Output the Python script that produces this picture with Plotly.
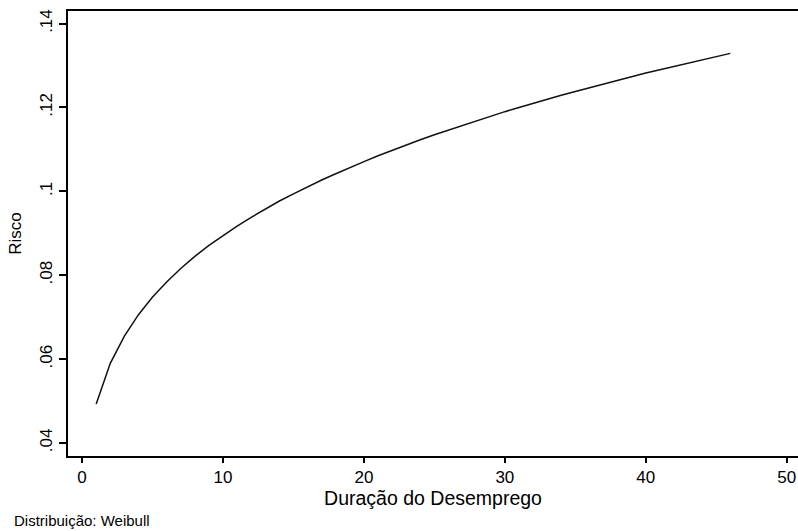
import plotly.graph_objects as go

# Duration of unemployment (months) and Weibull hazard
duracao = list(range(1, 47))
risco = [0.0493, 0.0590, 0.0655, 0.0706, 0.0748, 0.0784, 0.0816, 0.0845, 0.0871, 0.0895,
         0.0917, 0.0938, 0.0958, 0.0977, 0.0994, 0.1011, 0.1027, 0.1042, 0.1057, 0.1071,
         0.1085, 0.1098, 0.1111, 0.1123, 0.1135, 0.1146, 0.1158, 0.1169, 0.1179, 0.1190,
         0.1200, 0.1210, 0.1219, 0.1229, 0.1238, 0.1247, 0.1256, 0.1265, 0.1273, 0.1282,
         0.1290, 0.1298, 0.1306, 0.1314, 0.1321, 0.1329]

x_ticks = [0, 10, 20, 30, 40, 50]
y_ticks = [0.04, 0.06, 0.08, 0.10, 0.12, 0.14]
y_tick_labels = [".04", ".06", ".08", ".1", ".12", ".14"]

font_family = "Liberation Sans, Arial, sans-serif"

fig = go.Figure()
fig.add_trace(go.Scatter(x=duracao, y=risco, mode="lines",
                         line=dict(color="#111111", width=1.5),
                         showlegend=False, hoverinfo="x+y"))

fig.update_layout(
    width=798, height=531,
    margin=dict(l=68, r=0, t=11, b=75),
    paper_bgcolor="white", plot_bgcolor="white",
    font=dict(family=font_family, color="black", size=17),
    xaxis=dict(
        range=[-1.0, 50.8], tickvals=x_ticks, ticktext=[str(v) for v in x_ticks],
        showgrid=False, zeroline=False,
        showline=True, linecolor="black", linewidth=2, mirror=True,
        ticks="outside", ticklen=5, tickwidth=1.5, tickcolor="black",
        tickfont=dict(size=17),
        title=dict(text="Duração do Desemprego", font=dict(size=19.5), standoff=0),
        automargin=False,
    ),
    yaxis=dict(
        range=[0.0369, 0.1430], tickvals=y_ticks, ticktext=y_tick_labels,
        showgrid=False, zeroline=False,
        showline=True, linecolor="black", linewidth=1.5, mirror=False,
        ticks="outside", ticklen=7, tickwidth=1.5, tickcolor="black",
        tickangle=-90, tickfont=dict(size=17),
        title=dict(text="Risco", font=dict(size=17), standoff=12),
        automargin=False,
    ),
    annotations=[dict(
        text="Distribuição: Weibull", xref="paper", yref="paper",
        x=-56/730, y=-64/445, xanchor="left", yanchor="middle",
        showarrow=False, font=dict(size=15, family=font_family, color="black"),
    )],
)

fig.write_html(
    "out.html",
    config={"displayModeBar": False},
    post_script="document.body.style.margin='0';document.body.style.overflow='hidden';",
)
